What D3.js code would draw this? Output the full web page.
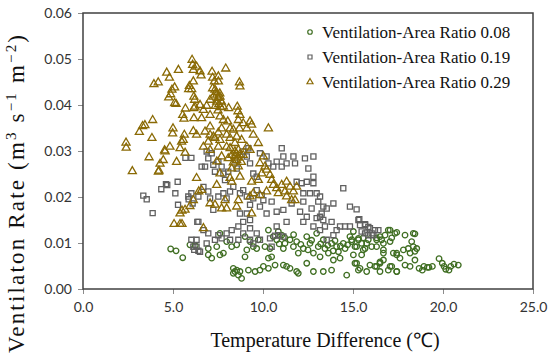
<!DOCTYPE html>
<html>
<head>
<meta charset="utf-8">
<script src="https://cdn.jsdelivr.net/npm/d3@7"></script>
<style>
  body { margin: 0; background: #fff; }
  svg { display: block; }
  .tick text { font-family: Lato, "Open Sans", sans-serif; font-size: 14px; fill: #333; }
</style>
</head>
<body>
<svg id="chart"></svg>
<script>
// series names and tick values
var seriesNames = ["Ventilation-Area Ratio 0.08", "Ventilation-Area Ratio 0.19", "Ventilation-Area Ratio 0.29"];
var xTicks = [0, 5, 10, 15, 20, 25];
var yTicks = [0, 0.01, 0.02, 0.03, 0.04, 0.05, 0.06];

// [temperature difference, ventilation rate]
var ratio008 = [
  [4.87,0.0087],[5.17,0.0083],[5.54,0.0068],[5.94,0.0096],[6.24,0.0094],[6.96,0.0088],[6.96,0.0074],[7.15,0.0067],
  [7.61,0.0074],[7.80,0.0078],[7.61,0.0121],[7.98,0.0103],[8.26,0.0092],[8.54,0.0096],[9.00,0.0114],[9.10,0.0085],
  [9.00,0.0070],[8.35,0.0045],[8.44,0.0038],[8.63,0.0030],[8.81,0.0023],[8.35,0.0034],[8.54,0.0041],[8.72,0.0038],
  [9.19,0.0041],[9.56,0.0038],[9.83,0.0041],[10.02,0.0049],[10.30,0.0045],[10.67,0.0052],[11.13,0.0052],[11.31,0.0049],
  [11.50,0.0045],[11.87,0.0038],[11.96,0.0034],[12.43,0.0056],[12.80,0.0038],[13.35,0.0038],[13.81,0.0041],[13.91,0.0063],
  [14.65,0.0030],[15.11,0.0056],[15.39,0.0045],[15.76,0.0038],[16.31,0.0049],[16.50,0.0056],[17.06,0.0049],[17.43,0.0038],
  [9.28,0.0103],[9.46,0.0092],[9.65,0.0088],[9.74,0.0107],[10.30,0.0128],[10.57,0.0114],[10.76,0.0107],[10.85,0.0125],
  [11.04,0.0117],[11.22,0.0099],[11.13,0.0088],[11.50,0.0107],[11.69,0.0092],[11.87,0.0103],[11.96,0.0078],[12.24,0.0088],
  [12.43,0.0114],[12.61,0.0099],[12.80,0.0078],[12.98,0.0121],[13.07,0.0092],[13.17,0.0070],[13.35,0.0107],[13.44,0.0088],
  [13.63,0.0078],[13.81,0.0099],[14.09,0.0092],[14.19,0.0081],[14.28,0.0067],[14.46,0.0099],[14.56,0.0088],[14.83,0.0114],
  [14.93,0.0103],[15.11,0.0092],[15.30,0.0110],[15.48,0.0099],[15.67,0.0088],[15.85,0.0107],[16.04,0.0092],[16.31,0.0107],
  [16.50,0.0114],[16.69,0.0078],[16.96,0.0128],[17.06,0.0103],[17.33,0.0121],[17.43,0.0078],[10.30,0.0067],[10.48,0.0070],
  [7.43,0.0092],[10.39,0.0088],[10.11,0.0092],[15.02,0.0125],[14.93,0.0107],[15.30,0.0107],[15.57,0.0111],[15.76,0.0099],
  [15.20,0.0092],[15.57,0.0085],[15.02,0.0074],[15.48,0.0074],[16.31,0.0111],[16.59,0.0107],[16.78,0.0117],[17.06,0.0128],
  [17.43,0.0123],[17.89,0.0117],[18.44,0.0120],[17.15,0.0111],[16.31,0.0092],[16.69,0.0085],[16.69,0.0099],[17.24,0.0078],
  [17.43,0.0074],[17.80,0.0085],[18.07,0.0088],[18.26,0.0103],[18.35,0.0092],[18.44,0.0082],[18.54,0.0088],[18.17,0.0078],
  [17.61,0.0067],[17.89,0.0052],[18.17,0.0049],[18.44,0.0063],[16.69,0.0063],[16.50,0.0059],[15.94,0.0052],[16.22,0.0049],
  [16.50,0.0038],[16.96,0.0041],[17.15,0.0049],[17.43,0.0038],[15.20,0.0056],[15.30,0.0041],[18.67,0.0045],[18.94,0.0049],
  [19.22,0.0047],[19.41,0.0049],[18.85,0.0041],[19.13,0.0047],[19.78,0.0066],[19.96,0.0056],[20.06,0.0049],[20.15,0.0043],
  [20.43,0.0049],[20.61,0.0054],[20.33,0.0041],[20.85,0.0052],[18.35,0.0121],[12.10,0.0097],[12.70,0.0106],[13.20,0.0098],
  [13.60,0.0095],[14.00,0.0105],[14.30,0.0093],[14.70,0.0096],[13.90,0.0083],[12.50,0.0085],[11.70,0.0118],[11.20,0.0112],
  [10.90,0.0098]
];

var ratio019 = [
  [3.35,0.0203],[3.54,0.0195],[3.87,0.0165],[4.35,0.0217],[4.61,0.0228],[4.68,0.0226],[5.13,0.0208],[5.26,0.0233],
  [5.28,0.0183],[5.69,0.0285],[6.02,0.0285],[5.87,0.0195],[6.02,0.0208],[6.09,0.0186],[6.35,0.0146],[6.02,0.0107],
  [6.31,0.0107],[6.18,0.0085],[6.41,0.0083],[5.85,0.0201],[6.41,0.0201],[6.59,0.0266],[6.87,0.0299],[7.15,0.0295],
  [6.96,0.0284],[6.78,0.0266],[7.24,0.0270],[7.33,0.0255],[7.52,0.0277],[7.70,0.0266],[7.80,0.0251],[7.89,0.0237],
  [8.07,0.0255],[8.44,0.0280],[8.54,0.0262],[8.90,0.0299],[9.19,0.0306],[9.10,0.0288],[9.28,0.0273],[9.46,0.0251],
  [9.65,0.0244],[9.83,0.0295],[10.20,0.0288],[10.30,0.0273],[10.57,0.0266],[10.76,0.0277],[11.04,0.0306],[11.13,0.0288],
  [11.31,0.0273],[11.04,0.0266],[11.69,0.0288],[11.78,0.0273],[12.33,0.0284],[12.80,0.0288],[12.52,0.0262],[12.80,0.0244],
  [12.80,0.0230],[12.43,0.0233],[12.15,0.0230],[11.87,0.0233],[12.24,0.0208],[12.61,0.0208],[12.98,0.0208],[13.17,0.0201],
  [13.07,0.0190],[13.35,0.0179],[13.26,0.0164],[13.54,0.0175],[13.91,0.0186],[14.46,0.0219],[12.70,0.0175],[12.24,0.0190],
  [12.06,0.0168],[12.43,0.0157],[12.98,0.0154],[13.17,0.0157],[13.35,0.0150],[12.24,0.0146],[12.80,0.0136],[13.17,0.0128],
  [13.44,0.0136],[13.81,0.0146],[14.09,0.0128],[14.28,0.0136],[14.56,0.0136],[14.83,0.0136],[15.20,0.0173],[15.30,0.0150],
  [15.39,0.0139],[15.67,0.0139],[15.94,0.0132],[16.22,0.0128],[16.41,0.0128],[15.67,0.0121],[16.04,0.0121],[13.91,0.0117],
  [13.54,0.0107],[10.76,0.0168],[10.48,0.0190],[10.02,0.0193],[9.93,0.0204],[9.65,0.0215],[9.46,0.0197],[9.28,0.0183],
  [9.10,0.0201],[8.90,0.0215],[8.72,0.0208],[8.35,0.0222],[8.17,0.0212],[7.98,0.0197],[7.80,0.0208],[7.52,0.0201],
  [7.06,0.0197],[6.96,0.0212],[6.69,0.0222],[7.24,0.0172],[8.72,0.0164],[9.28,0.0150],[9.10,0.0164],[10.20,0.0164],
  [9.83,0.0179],[11.13,0.0172],[11.59,0.0186],[11.31,0.0146],[10.76,0.0136],[10.67,0.0116],[10.85,0.0117],[11.13,0.0114],
  [10.39,0.0110],[10.48,0.0092],[9.83,0.0107],[9.65,0.0121],[9.28,0.0132],[8.90,0.0146],[8.63,0.0136],[8.26,0.0128],
  [7.98,0.0121],[8.17,0.0107],[8.63,0.0107],[8.90,0.0121],[9.28,0.0107],[9.46,0.0099],[7.70,0.0110],[7.52,0.0117],
  [7.33,0.0107],[6.96,0.0121],[6.69,0.0128],[6.41,0.0146],[6.31,0.0092],[6.13,0.0092],[6.50,0.0081],[6.87,0.0099],
  [14.83,0.0179],[15.35,0.0152],[15.67,0.0141],[15.85,0.0135],[15.48,0.0125],[16.13,0.0117],[15.85,0.0117]
];

var ratio029 = [
  [2.39,0.0318],[2.40,0.0307],[2.74,0.0256],[3.13,0.0341],[3.31,0.0354],[3.44,0.0356],[3.67,0.0286],[3.83,0.0328],
  [3.87,0.0367],[3.94,0.0445],[4.18,0.0449],[4.22,0.0257],[4.28,0.0272],[4.46,0.0280],[4.53,0.0301],[4.83,0.0309],
  [4.65,0.0470],[4.80,0.0459],[4.76,0.0416],[4.87,0.0423],[4.94,0.0433],[5.09,0.0438],[5.00,0.0349],[4.98,0.0338],
  [5.09,0.0404],[5.17,0.0402],[5.20,0.0276],[5.30,0.0476],[5.06,0.0141],[5.39,0.0141],[5.50,0.0141],[5.39,0.0164],
  [5.50,0.0170],[5.67,0.0172],[5.39,0.0306],[5.48,0.0320],[5.63,0.0335],[5.67,0.0296],[5.54,0.0378],[5.61,0.0370],
  [5.69,0.0392],[5.87,0.0434],[5.91,0.0441],[6.06,0.0498],[6.09,0.0487],[6.13,0.0476],[6.13,0.0451],[6.16,0.0418],
  [6.20,0.0411],[6.16,0.0393],[6.16,0.0371],[6.13,0.0343],[6.31,0.0335],[6.31,0.0241],[6.43,0.0212],[6.13,0.0193],
  [5.94,0.0180],[6.31,0.0483],[6.50,0.0473],[6.56,0.0464],[7.17,0.0472],[7.20,0.0459],[7.52,0.0462],[7.93,0.0479],
  [7.30,0.0451],[7.52,0.0451],[7.20,0.0436],[7.33,0.0433],[7.60,0.0425],[8.69,0.0449],[8.72,0.0440],[6.04,0.0434],
  [7.43,0.0422],[7.61,0.0418],[7.24,0.0418],[7.06,0.0411],[7.43,0.0407],[7.69,0.0407],[6.22,0.0396],[6.69,0.0389],
  [6.87,0.0398],[6.50,0.0400],[7.80,0.0396],[8.09,0.0393],[8.57,0.0396],[8.61,0.0386],[8.72,0.0378],[7.06,0.0378],
  [6.59,0.0371],[7.61,0.0375],[7.80,0.0367],[8.04,0.0364],[8.63,0.0367],[8.90,0.0360],[9.28,0.0364],[9.37,0.0357],
  [7.06,0.0353],[7.70,0.0349],[8.17,0.0349],[8.35,0.0346],[8.69,0.0349],[9.10,0.0349],[10.30,0.0349],[6.78,0.0342],
  [7.06,0.0335],[7.24,0.0331],[7.52,0.0340],[7.33,0.0328],[7.61,0.0324],[7.98,0.0335],[8.17,0.0328],[8.54,0.0331],
  [8.81,0.0324],[9.46,0.0335],[9.74,0.0317],[8.44,0.0317],[7.98,0.0309],[7.52,0.0309],[5.57,0.0324],[4.56,0.0299],
  [6.69,0.0309],[6.96,0.0320],[7.06,0.0302],[8.17,0.0306],[8.44,0.0299],[8.63,0.0302],[9.10,0.0309],[9.28,0.0302],
  [8.90,0.0291],[8.44,0.0288],[8.54,0.0280],[8.26,0.0291],[8.07,0.0284],[7.70,0.0288],[7.43,0.0277],[10.02,0.0288],
  [9.83,0.0273],[10.11,0.0266],[10.20,0.0259],[9.93,0.0251],[4.19,0.0255],[8.26,0.0262],[8.63,0.0266],[8.72,0.0244],
  [8.17,0.0241],[8.26,0.0233],[7.43,0.0226],[7.61,0.0251],[9.37,0.0233],[9.74,0.0237],[10.39,0.0248],[10.48,0.0237],
  [10.57,0.0226],[10.76,0.0219],[11.04,0.0226],[11.31,0.0233],[11.50,0.0222],[11.69,0.0212],[11.87,0.0222],[11.31,0.0201],
  [11.59,0.0193],[11.22,0.0212],[11.78,0.0193],[10.85,0.0208],[9.46,0.0208],[9.28,0.0201],[9.83,0.0204],[10.20,0.0212],
  [6.59,0.0215],[7.06,0.0186],[7.33,0.0183],[7.70,0.0175],[7.89,0.0193],[7.98,0.0175],[8.54,0.0179],[8.63,0.0193],
  [9.37,0.0164],[6.69,0.0132],[7.40,0.0428],[7.50,0.0415],[7.55,0.0402],[7.65,0.0395],[7.50,0.0388],[7.35,0.0398],
  [8.50,0.0295],[8.60,0.0285],[8.70,0.0292],[8.35,0.0275],[8.80,0.0276]
];

var colors = ["#3f6e22", "#606060", "#8a6a05"];

var outerWidth = 550, outerHeight = 357;
var margins = { left: 83, top: 13, right: 17, bottom: 68 };
var innerWidth = outerWidth - margins.left - margins.right;
var innerHeight = outerHeight - margins.top - margins.bottom;

var svg = d3.select('svg#chart')
  .attr('width', outerWidth)
  .attr('height', outerHeight);

var g = svg.append('g')
  .attr('transform', 'translate(' + margins.left + ',' + margins.top + ')');

var xScale = d3.scaleLinear().domain([0, 25]).range([0, innerWidth]);
var yScale = d3.scaleLinear().domain([0, 0.06]).range([innerHeight, 0]);

// axes
var xAxis = d3.axisBottom(xScale).tickValues(xTicks).tickSize(5).tickPadding(8).tickFormat(d3.format('.1f'));
var yAxis = d3.axisLeft(yScale).tickValues(yTicks).tickSize(5).tickPadding(6).tickFormat(d3.format('.2f'));

g.append('g')
  .attr('transform', 'translate(0,' + innerHeight + ')')
  .call(xAxis);
g.append('g').call(yAxis);

g.selectAll('.domain').remove();
g.selectAll('.tick line').attr('stroke', '#8c8c8c');

// frame
g.append('rect')
  .attr('width', innerWidth)
  .attr('height', innerHeight)
  .attr('fill', 'none')
  .attr('stroke', '#404040')
  .attr('stroke-width', 1.5);

// markers
var symbols = [d3.symbolCircle, d3.symbolSquare, d3.symbolTriangle];
var sizes = [24, 26, 28];

function drawSeries(data, i) {
  g.append('g')
    .selectAll('path')
    .data(data)
    .enter()
    .append('path')
    .attr('d', d3.symbol().type(symbols[i]).size(sizes[i]))
    .attr('transform', d => 'translate(' + xScale(d[0]) + ',' + yScale(d[1]) + ')')
    .attr('fill', 'none')
    .attr('stroke', colors[i])
    .attr('stroke-width', 1.3);
}

drawSeries(ratio008, 0);
drawSeries(ratio019, 1);
drawSeries(ratio029, 2);

// legend
var legend = svg.append('g').attr('transform', 'translate(310,32)');
seriesNames.forEach(function (name, i) {
  var row = legend.append('g').attr('transform', 'translate(0,' + (i * 25) + ')');
  row.append('path')
    .attr('d', d3.symbol().type(symbols[i]).size(16))
    .attr('fill', 'none')
    .attr('stroke', colors[i])
    .attr('stroke-width', 1.2);
  row.append('text')
    .attr('x', 12)
    .attr('y', 5.5)
    .attr('font-family', '"Liberation Serif", serif')
    .attr('font-size', 17)
    .attr('fill', '#111')
    .text(name);
});

// axis titles
svg.append('text')
  .attr('x', 325)
  .attr('y', 347)
  .attr('text-anchor', 'middle')
  .attr('font-family', '"Liberation Serif", serif')
  .attr('font-size', 20)
  .attr('fill', '#111')
  .text('Temperature Difference (\u2103)');

// y title, stretched to the length it has in the original
var yTitle = svg.append('text')
  .attr('transform', 'translate(24,194) rotate(-90)')
  .attr('text-anchor', 'middle')
  .attr('font-family', '"Liberation Serif", serif')
  .attr('font-size', 23)
  .attr('textLength', 318)
  .attr('lengthAdjust', 'spacing')
  .attr('fill', '#111');
yTitle.append('tspan').text('Ventilaton Rate (m');
yTitle.append('tspan').attr('baseline-shift', 'super').attr('font-size', 15).text('3');
yTitle.append('tspan').text(' s');
yTitle.append('tspan').attr('baseline-shift', 'super').attr('font-size', 15).text('\u22121');
yTitle.append('tspan').text(' m');
yTitle.append('tspan').attr('baseline-shift', 'super').attr('font-size', 15).text('\u22122');
yTitle.append('tspan').text(')');
</script>
</body>
</html>
